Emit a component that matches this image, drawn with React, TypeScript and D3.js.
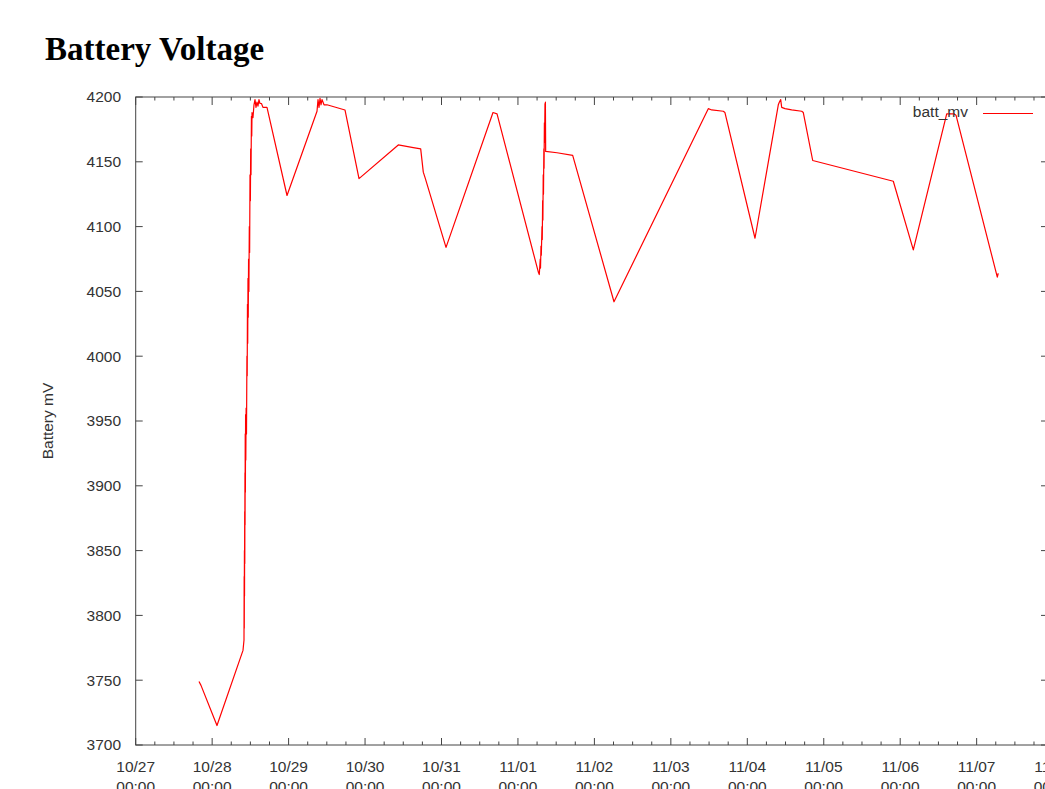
import React from "react";
import * as d3 from "d3";

// ---- data ----
const times: string[] = [
  "2013-10-27 19:52", "2013-10-27 20:30", "2013-10-28 01:31", "2013-10-28 09:41",
  "2013-10-28 10:00", "2013-10-28 10:03", "2013-10-28 10:05", "2013-10-28 10:08",
  "2013-10-28 10:10", "2013-10-28 10:13", "2013-10-28 10:15", "2013-10-28 10:18",
  "2013-10-28 10:20", "2013-10-28 10:23", "2013-10-28 10:26", "2013-10-28 10:30",
  "2013-10-28 10:34", "2013-10-28 10:40", "2013-10-28 10:47", "2013-10-28 10:55",
  "2013-10-28 11:00", "2013-10-28 11:05", "2013-10-28 11:10", "2013-10-28 11:15",
  "2013-10-28 11:20", "2013-10-28 11:26", "2013-10-28 11:32", "2013-10-28 11:40",
  "2013-10-28 11:46", "2013-10-28 11:53", "2013-10-28 12:00", "2013-10-28 12:06",
  "2013-10-28 12:12", "2013-10-28 12:20", "2013-10-28 12:26", "2013-10-28 12:31",
  "2013-10-28 12:49", "2013-10-28 13:08", "2013-10-28 13:27", "2013-10-28 13:46",
  "2013-10-28 14:04", "2013-10-28 14:23", "2013-10-28 14:42", "2013-10-28 15:01",
  "2013-10-28 15:29", "2013-10-28 15:57", "2013-10-28 17:13",
  "2013-10-28 23:30", "2013-10-29 08:55", "2013-10-29 09:14", "2013-10-29 09:33",
  "2013-10-29 09:52", "2013-10-29 10:10", "2013-10-29 10:29", "2013-10-29 11:07",
  "2013-10-29 12:03", "2013-10-29 17:42", "2013-10-29 22:06", "2013-10-30 10:26",
  "2013-10-30 15:09", "2013-10-30 17:28", "2013-10-30 18:17", "2013-10-30 18:49",
  "2013-10-31 01:25", "2013-10-31 16:10", "2013-10-31 17:26", "2013-11-01 06:23",
  "2013-11-01 06:42", "2013-11-01 07:00", "2013-11-01 07:05", "2013-11-01 07:14",
  "2013-11-01 07:20", "2013-11-01 07:33", "2013-11-01 07:38", "2013-11-01 07:45",
  "2013-11-01 07:50", "2013-11-01 07:56", "2013-11-01 08:01", "2013-11-01 08:08",
  "2013-11-01 08:12", "2013-11-01 08:18", "2013-11-01 08:22", "2013-11-01 08:29",
  "2013-11-01 08:33", "2013-11-01 08:37", "2013-11-01 08:42", "2013-11-01 12:16",
  "2013-11-01 17:11",
  "2013-11-02 06:09", "2013-11-03 11:45", "2013-11-03 12:49", "2013-11-03 16:28",
  "2013-11-03 16:59", "2013-11-04 02:25", "2013-11-04 09:44", "2013-11-04 10:03",
  "2013-11-04 10:29", "2013-11-04 10:48", "2013-11-04 11:50", "2013-11-04 13:56",
  "2013-11-04 17:05", "2013-11-04 17:35", "2013-11-04 20:32", "2013-11-05 21:50",
  "2013-11-06 04:07", "2013-11-06 14:36", "2013-11-06 16:53", "2013-11-06 17:31",
  "2013-11-07 06:29", "2013-11-07 06:47",
];

const millivolts: number[] = [
  3749, 3746, 3715, 3773,
  3781, 3830, 3790, 3850,
  3815, 3880, 3840, 3910,
  3870, 3940, 3895, 3955,
  3920, 3960, 3940, 4000,
  3985, 4040, 4010, 4060,
  4030, 4075, 4050, 4100,
  4080, 4140, 4120, 4160,
  4140, 4185, 4170, 4188,
  4184, 4194, 4198, 4192,
  4196, 4193, 4198, 4195,
  4195, 4192, 4192,
  4124, 4189, 4198, 4192,
  4199, 4194, 4198, 4194,
  4194, 4190, 4137, 4163,
  4161, 4160, 4142, 4138,
  4084, 4188, 4187, 4065,
  4063, 4075, 4068, 4085,
  4078, 4100, 4090, 4120,
  4105, 4140, 4125, 4160,
  4145, 4180, 4165, 4195,
  4175, 4196, 4158, 4157,
  4155,
  4042, 4191, 4190, 4189,
  4188, 4091, 4194, 4196,
  4198, 4192, 4191, 4190,
  4189, 4188, 4151, 4135,
  4082, 4187, 4187, 4186,
  4061, 4064,
];

const yTicks: number[] = [3700, 3750, 3800, 3850, 3900, 3950, 4000, 4050, 4100, 4150, 4200];
const xStart = "2013-10-27 00:00";
const xEnd = "2013-11-08 12:00";
const seriesName = "batt_mv";
const titleText = "Battery Voltage";
const yLabel = "Battery mV";

const parse = d3.utcParse("%Y-%m-%d %H:%M");

export default function App() {
  const W = 1045;
  const H = 789;
  const left = 135.7;
  const top = 97;
  const bottom = 745;
  const right = 1048;

  const x = d3
    .scaleUtc()
    .domain([parse(xStart)!, parse(xEnd)!])
    .range([left, left + 12.5 * 76.45]);
  const y = d3.scaleLinear().domain([3700, 4200]).range([bottom, top]);

  const pts = times.map((t, i) => ({ t: parse(t)!, v: millivolts[i] }));
  const line = d3
    .line<{ t: Date; v: number }>()
    .x((d) => x(d.t))
    .y((d) => y(d.v));

  const majors = d3.utcDay.range(parse(xStart)!, parse(xEnd)!);
  const minors = d3.utcHour
    .every(6)!
    .range(parse(xStart)!, parse(xEnd)!)
    .filter((d) => d.getUTCHours() !== 0);
  const fmtDay = d3.utcFormat("%m/%d");
  const fmtHour = d3.utcFormat("%H:%M");

  const axisColor = "#444";
  const labelColor = "#333";
  const font = "'Liberation Sans', Arial, sans-serif";
  const maj = 7;
  const min = 3.5;

  return (
    <svg
      width={W}
      height={H}
      style={{ position: "absolute", left: 0, top: 0, background: "#fff" }}
    >
      <text
        x={45}
        y={60}
        fontFamily="'Liberation Serif', 'Times New Roman', serif"
        fontWeight="bold"
        fontSize={33}
        fill="#000"
      >
        {titleText}
      </text>

      {/* border */}
      <rect
        x={left}
        y={top}
        width={right - left}
        height={bottom - top}
        fill="none"
        stroke={axisColor}
        strokeWidth={1}
      />

      {/* y ticks */}
      {yTicks.map((v) => (
        <g key={"y" + v}>
          <line x1={left} x2={left + maj} y1={y(v)} y2={y(v)} stroke={axisColor} />
          <line x1={right} x2={right - maj} y1={y(v)} y2={y(v)} stroke={axisColor} />
          <text
            x={121}
            y={y(v)}
            dy="0.35em"
            textAnchor="end"
            fontFamily={font}
            fontSize={15.5}
            fill={labelColor}
          >
            {v}
          </text>
        </g>
      ))}

      {/* x ticks */}
      {majors.map((d) => (
        <g key={"x" + d.getTime()}>
          <line x1={x(d)} x2={x(d)} y1={bottom} y2={bottom - maj} stroke={axisColor} />
          <line x1={x(d)} x2={x(d)} y1={top} y2={top + maj + 1} stroke={axisColor} />
          <text x={x(d)} y={771.5} textAnchor="middle" fontFamily={font} fontSize={15.5} fill={labelColor}>
            {fmtDay(d)}
          </text>
          <text x={x(d)} y={792} textAnchor="middle" fontFamily={font} fontSize={15.5} fill={labelColor}>
            {fmtHour(d)}
          </text>
        </g>
      ))}
      {minors.map((d) => (
        <g key={"m" + d.getTime()}>
          <line x1={x(d)} x2={x(d)} y1={bottom} y2={bottom - min} stroke={axisColor} />
          <line x1={x(d)} x2={x(d)} y1={top} y2={top + min} stroke={axisColor} />
        </g>
      ))}

      {/* y label */}
      <text
        transform={`translate(53,${(top + bottom) / 2}) rotate(-90)`}
        textAnchor="middle"
        fontFamily={font}
        fontSize={15.5}
        fill={labelColor}
      >
        {yLabel}
      </text>

      {/* series */}
      <path d={line(pts) || ""} fill="none" stroke="#ff0000" strokeWidth={1.2} strokeLinejoin="round" />

      {/* legend */}
      <text x={968} y={117} textAnchor="end" fontFamily={font} fontSize={15.5} fill={labelColor}>
        {seriesName}
      </text>
      <line x1={983} x2={1033} y1={113.5} y2={113.5} stroke="#ff0000" strokeWidth={1.2} />
    </svg>
  );
}
